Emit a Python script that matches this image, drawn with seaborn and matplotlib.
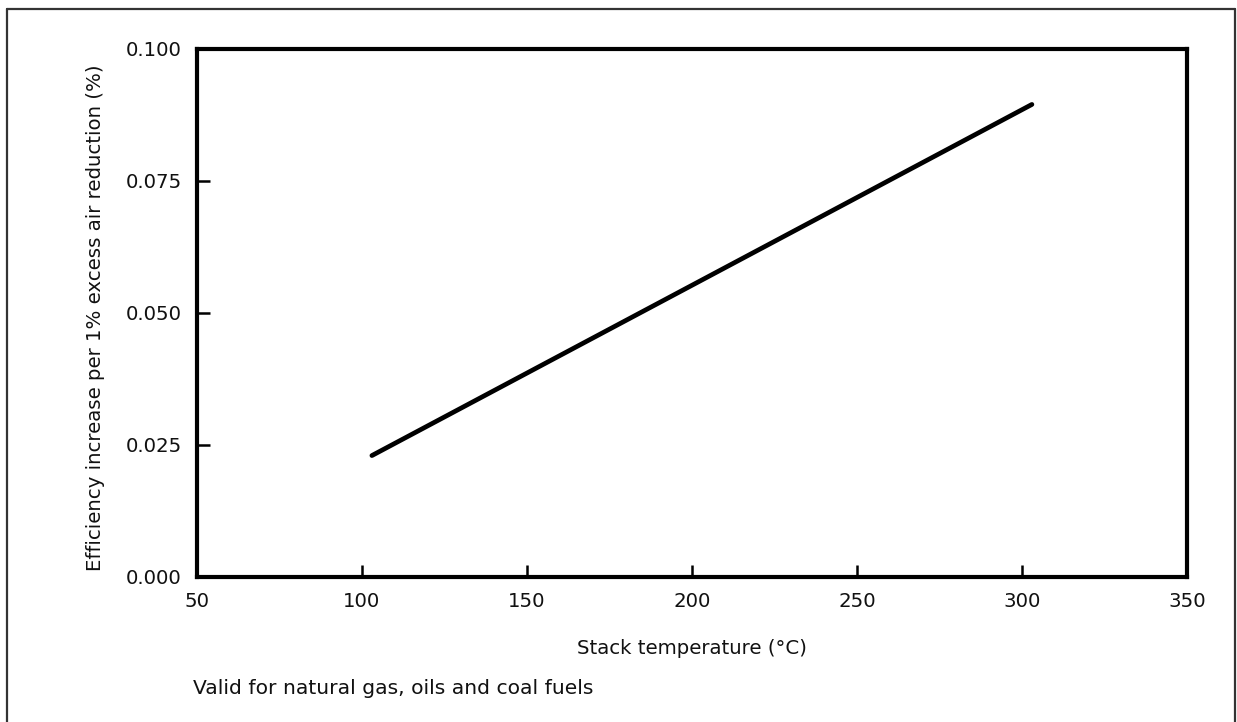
import matplotlib
matplotlib.use("Agg")
import matplotlib.pyplot as plt
from matplotlib.lines import Line2D
import seaborn as sns
import pandas as pd

# Data
stack_temp_c = [103, 303]
efficiency_increase = [0.023, 0.0895]
x_ticks = [50, 100, 150, 200, 250, 300, 350]
y_ticks = [0.000, 0.025, 0.050, 0.075, 0.100]
y_tick_labels = ["0.000", "0.025", "0.050", "0.075", "0.100"]

sns.set_theme(style="white")
plt.rcParams['font.family'] = ['DejaVu Sans']

FS = 14.2
fig = plt.figure(figsize=(12.37, 7.22), dpi=100)
ax = fig.add_axes([197/1237, 1-577/722, (1187-197)/1237, (577-49)/722])

df = pd.DataFrame({"x": stack_temp_c, "y": efficiency_increase})
sns.lineplot(data=df, x="x", y="y", ax=ax, color="black", linewidth=3.4)

ax.set_xlim(50, 350)
ax.set_ylim(0, 0.1)
ax.set_xticks(x_ticks)
ax.set_xticklabels([str(t) for t in x_ticks])
ax.set_yticks(y_ticks)
ax.set_yticklabels(y_tick_labels)

for s in ax.spines.values():
    s.set_visible(True)
    s.set_linewidth(3.0)
    s.set_color("black")

ax.tick_params(axis="both", direction="in", length=9, width=1.8, color="black",
               labelsize=FS, labelcolor="#111111", pad=11)
ax.tick_params(axis="x", bottom=True, top=False)
ax.tick_params(axis="y", left=True, right=False)

ax.set_xlabel("Stack temperature (°C)", fontsize=FS, color="#111111", labelpad=20)
ax.set_ylabel("Efficiency increase per 1% excess air reduction (%)", fontsize=FS,
              color="#111111", labelpad=14)
ax.yaxis.set_label_coords(-0.093, 0.492)

fig.text(193/1237, 1-688/722, "Valid for natural gas, oils and coal fuels",
         fontsize=14.6, color="#111111", ha="left", va="center")

# outer frame of the figure (left, top, right)
frame_kw = dict(color="#333333", linewidth=1.6, transform=fig.transFigure)
fig.add_artist(Line2D([7/1237, 7/1237], [0, 1-9/722], **frame_kw))
fig.add_artist(Line2D([7/1237, 1235/1237], [1-9/722, 1-9/722], **frame_kw))
fig.add_artist(Line2D([1235/1237, 1235/1237], [0, 1-9/722], **frame_kw))

fig.savefig("out.png", dpi=100, facecolor="white")
